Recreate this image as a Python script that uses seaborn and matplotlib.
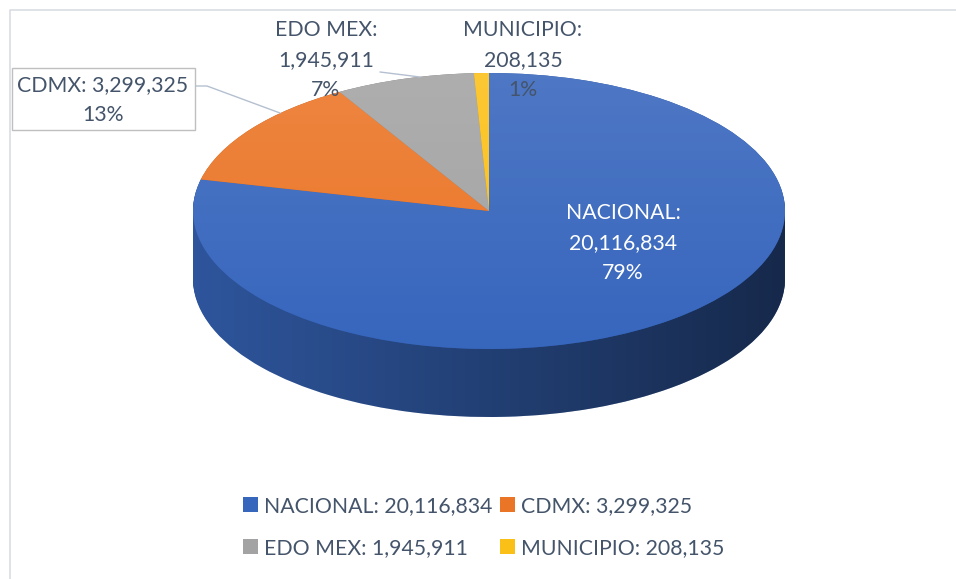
import numpy as np
import matplotlib
matplotlib.use("Agg")
import matplotlib.pyplot as plt
import seaborn as sns
from matplotlib.patches import Ellipse, PathPatch, Rectangle
from matplotlib.path import Path
from matplotlib.lines import Line2D

# data
categories = ["NACIONAL", "CDMX", "EDO MEX", "MUNICIPIO"]
values = [20116834, 3299325, 1945911, 208135]
percents = [79, 13, 7, 1]
top_colors = ["#3766bd", "#eb7526", "#a3a3a3", "#fbc018"]
side_colors = ["#2e559c", "#b85a1c", "#7d7d7d", "#c79500"]

sns.set_theme(style="white")
plt.rcParams["font.family"] = ["Lato", "DejaVu Sans"]
TXT = "#44546a"
FS = 15.3

W, H = 956, 579
fig = plt.figure(figsize=(W / 100, H / 100), dpi=100)
ax = fig.add_axes([0, 0, 1, 1])

def fx(px):
    return px / W

def fy(py):
    return 1 - py / H

# ellipse geometry in pixels
cx, cy = 489, 211
rx, ry = 296, 138
depth = 68 / ry

# side of the 3D pie: stacked pies
for d in np.linspace(depth, 0, 70):
    ax.pie(values, colors=side_colors, startangle=90, counterclock=False,
           center=(0, -d), radius=1, wedgeprops=dict(linewidth=0))

# horizontal shading on the side
theta = np.linspace(np.pi, 2 * np.pi, 300)
xs = np.concatenate([np.cos(theta), np.cos(theta[::-1])])
ys = np.concatenate([np.sin(theta), np.sin(theta[::-1]) - depth])
side_patch = PathPatch(Path(np.column_stack([xs, ys])), transform=ax.transData,
                       facecolor="none", edgecolor="none")
ax.add_patch(side_patch)
grad = np.zeros((2, 256, 4))
grad[..., 3] = np.linspace(0.0, 0.52, 256)[None, :]
im = ax.imshow(grad, extent=(-1, 1, -1 - depth, 0), aspect="auto", zorder=1.5,
               interpolation="bilinear")
im.set_clip_path(side_patch)

# top face
wedges, _ = ax.pie(values, colors=top_colors, startangle=90, counterclock=False,
                   radius=1, wedgeprops=dict(linewidth=0))
for w in wedges:
    w.set_zorder(2)

# light vertical gloss on the top face
top_patch = Ellipse((0, 0), 2, 2, transform=ax.transData, facecolor="none", edgecolor="none")
ax.add_patch(top_patch)
gloss = np.ones((256, 2, 4))
gloss[..., 3] = np.linspace(0.12, 0.0, 256)[:, None]
im2 = ax.imshow(gloss, extent=(-1, 1, -1, 1), aspect="auto", zorder=2.5,
                interpolation="bilinear")
im2.set_clip_path(top_patch)

ax.set_aspect("auto")
ax.set_xlim(-cx / rx, (W - cx) / rx)
ax.set_ylim(-(H - cy) / ry, cy / ry)
ax.axis("off")

# data labels
LS = 1.6
fig.text(fx(623), fy(243), f"{categories[0]}:\n{values[0]:,}\n{percents[0]}%", color="white",
         fontsize=FS, ha="center", va="center", linespacing=LS)
fig.text(fx(103), fy(100), f"{categories[1]}: {values[1]:,}\n{percents[1]}%", color=TXT,
         fontsize=FS, ha="center", va="center", linespacing=LS)
fig.add_artist(Rectangle((fx(12), fy(130)), fx(195) - fx(12), fy(68) - fy(130),
                         transform=fig.transFigure, facecolor="none", edgecolor="#bfbfbf", lw=1))
fig.text(fx(326), fy(60), f"{categories[2]}:\n{values[2]:,}\n{percents[2]}%", color=TXT,
         fontsize=FS, ha="center", va="center", linespacing=LS)
fig.text(fx(523), fy(60), f"{categories[3]}:\n{values[3]:,}\n{percents[3]}%", color=TXT,
         fontsize=FS, ha="center", va="center", linespacing=LS)

# leader lines
fig.add_artist(Line2D([fx(196), fx(207), fx(280)], [fy(86), fy(86), fy(113)],
                      transform=fig.transFigure, color="#b4c0d0", lw=1))
fig.add_artist(Line2D([fx(380), fx(420)], [fy(72), fy(77)],
                      transform=fig.transFigure, color="#b4c0d0", lw=1))

# chart border
fig.add_artist(Line2D([fx(10), fx(10), fx(960)], [fy(590), fy(10), fy(10)],
                      transform=fig.transFigure, color="#d9dde3", lw=1.2))

# legend
order = [0, 2, 1, 3]
ax.legend([wedges[i] for i in order],
          [f"{categories[i]}: {values[i]:,}" for i in order],
          loc="center", bbox_to_anchor=(fx(484), fy(527)), bbox_transform=fig.transFigure,
          ncol=2, frameon=False, fontsize=FS, labelcolor=TXT,
          handlelength=0.7, handleheight=0.7, handletextpad=0.3,
          columnspacing=0.35, labelspacing=1.07)

fig.savefig("out.png", dpi=100)
